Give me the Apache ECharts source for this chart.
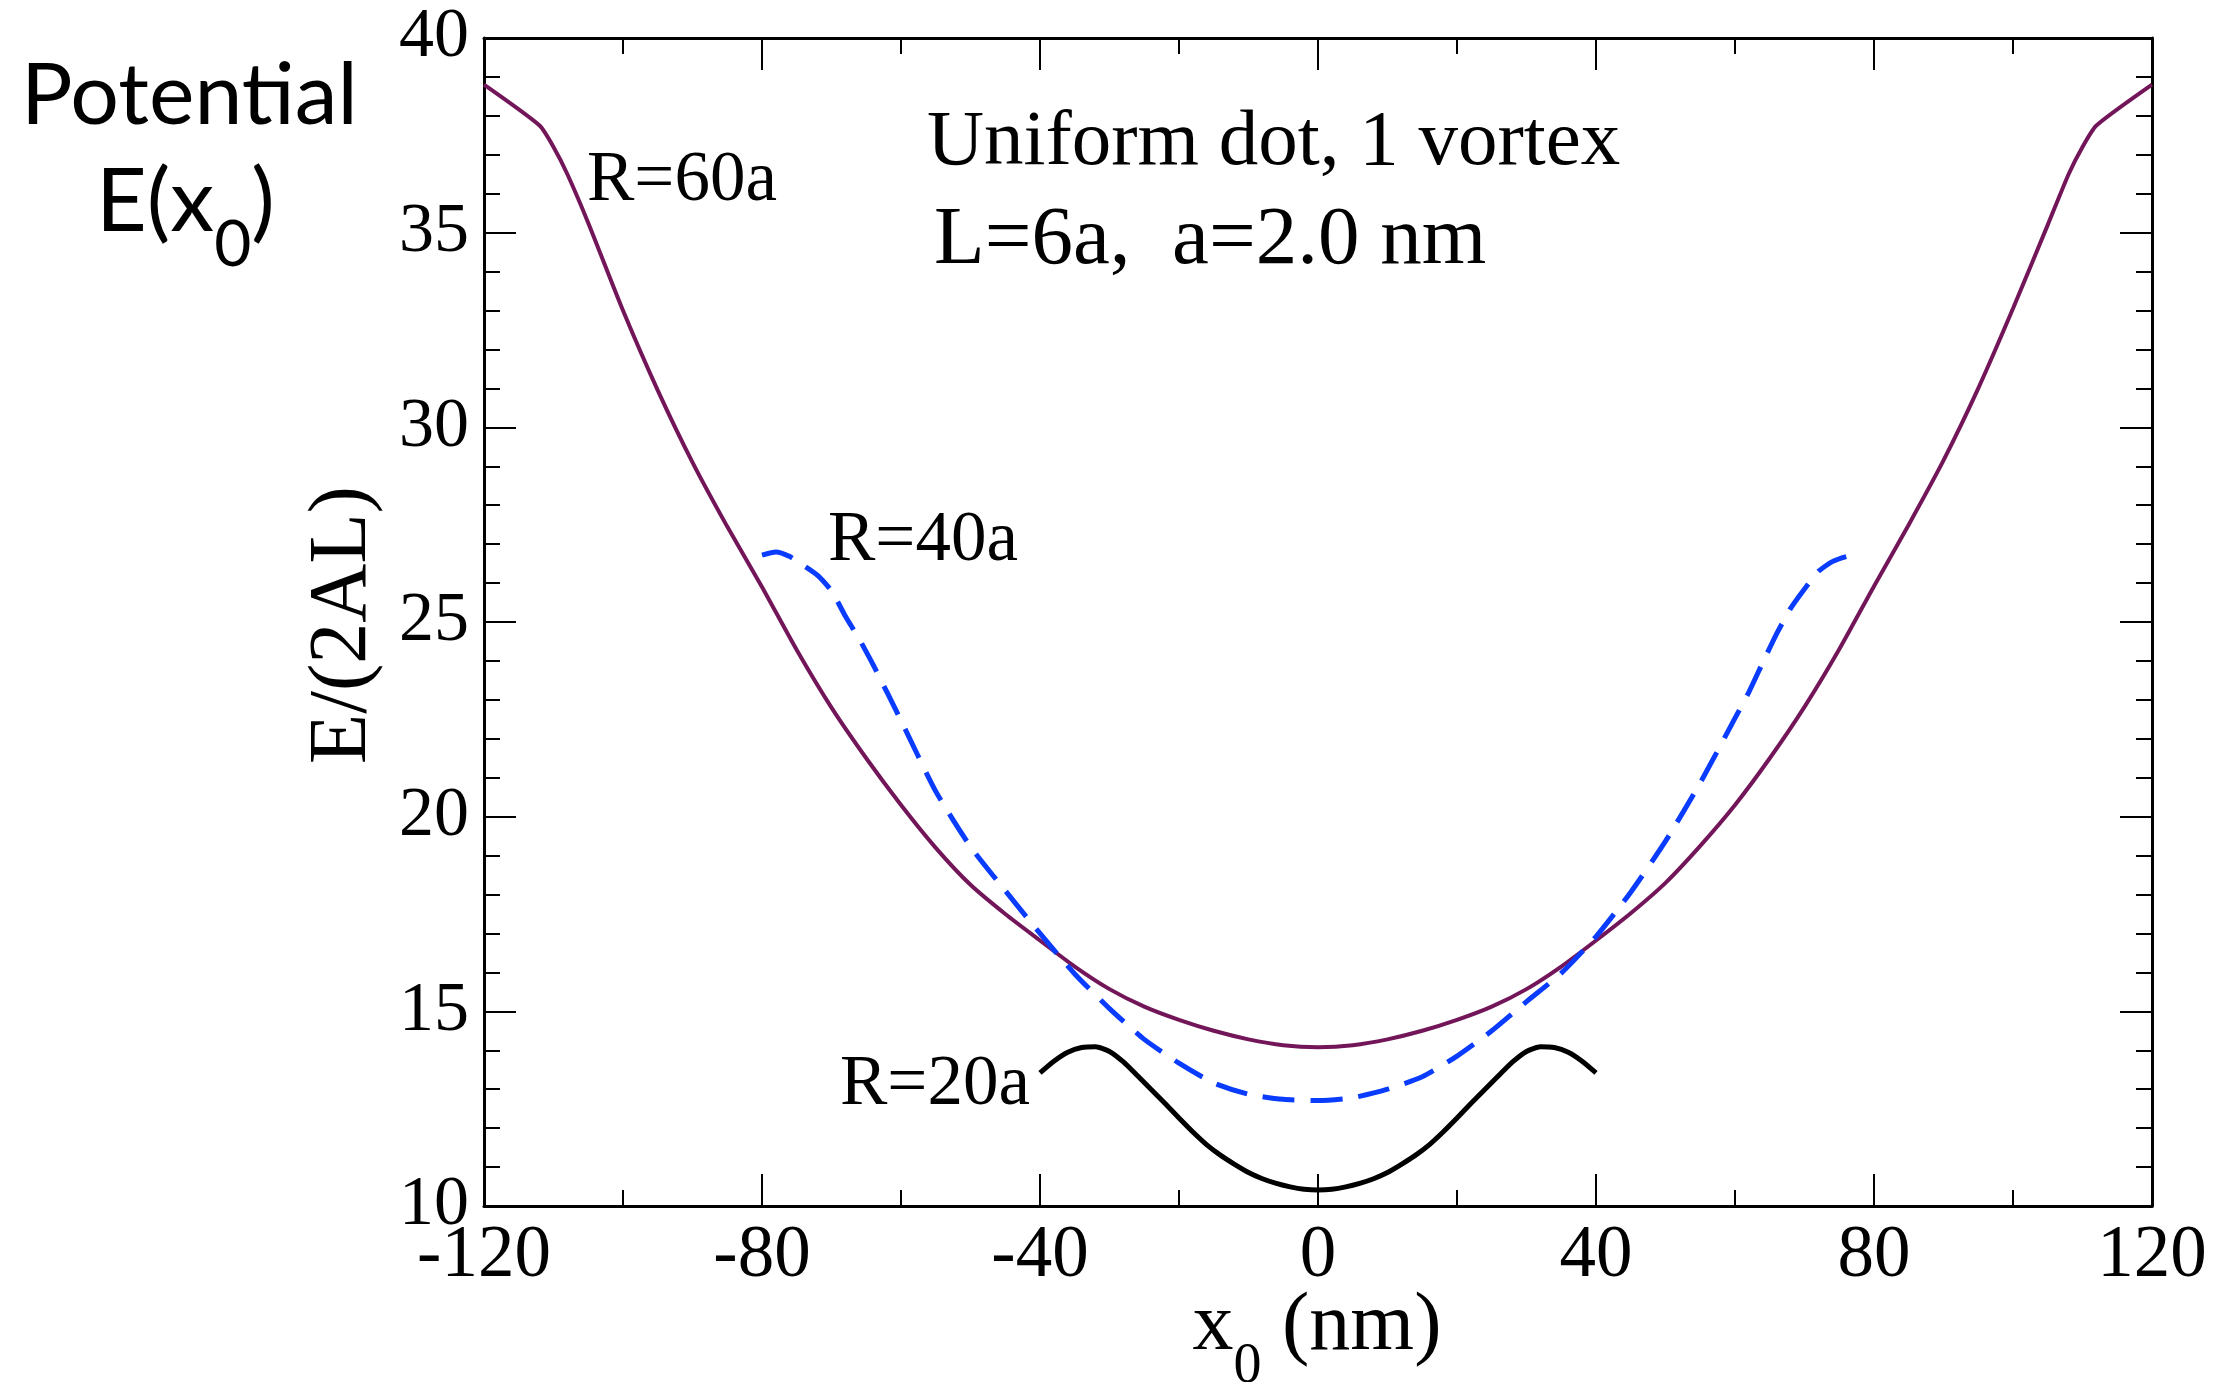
<!DOCTYPE html>
<html>
<head>
<meta charset="utf-8">
<script src="https://cdn.jsdelivr.net/npm/echarts@6/dist/echarts.min.js"></script>
<style>
  html, body { margin: 0; padding: 0; background: #fff; }
  #chart { width: 2219px; height: 1382px; }
</style>
</head>
<body>
<div id="chart"></div>
<script>
// R=60a (solid maroon)
var r60X = [-120, -112, -110, -108, -105, -100, -95, -90, -85, -80, -75, -70, -65, -60, -55, -50, -45, -40, -35, -30, -25, -20, -15, -10, -5, 0,
            5, 10, 15, 20, 25, 30, 35, 40, 45, 50, 55, 60, 65, 70, 75, 80, 85, 90, 95, 100, 105, 108, 110, 112, 120];
var r60Y = [38.8, 37.75, 37.2, 36.5, 35.25, 33.0, 30.95, 29.1, 27.45, 25.9, 24.28, 22.8, 21.5, 20.3, 19.2, 18.25, 17.5, 16.82, 16.15, 15.57, 15.12, 14.78, 14.5, 14.28, 14.13, 14.08,
            14.13, 14.28, 14.5, 14.78, 15.12, 15.57, 16.15, 16.82, 17.52, 18.3, 19.25, 20.3, 21.5, 22.82, 24.3, 25.92, 27.5, 29.15, 31.0, 33.05, 35.2, 36.5, 37.2, 37.75, 38.8];

// R=40a (dashed blue)
var r40X = [-80, -78, -76, -74, -72, -70, -68, -66, -64, -62, -60, -55, -50, -45, -40, -35, -30, -25, -20, -15, -10, -5, 0,
            5, 10, 15, 20, 25, 30, 35, 40, 45, 50, 55, 60, 62, 64, 66, 68, 70, 72, 74, 76, 78];
var r40Y = [26.72, 26.8, 26.68, 26.45, 26.2, 25.8, 25.15, 24.56, 23.9, 23.19, 22.47, 20.65, 19.23, 18.1, 17.0, 15.96, 15.07, 14.28, 13.67, 13.16, 12.87, 12.74, 12.71,
            12.78, 13.0, 13.32, 13.85, 14.5, 15.25, 15.98, 16.92, 18.06, 19.37, 20.87, 22.53, 23.2, 23.96, 24.7, 25.35, 25.85, 26.3, 26.55, 26.68, 26.75];

// R=20a (solid black)
var r20X = [-40, -38, -36, -34, -32, -30, -28, -26, -24, -22, -20, -18, -16, -14, -12, -10, -8, -6, -4, -2, 0,
            2, 4, 6, 8, 10, 12, 14, 16, 18, 20, 22, 24, 26, 28, 30, 32, 34, 36, 38, 40];
var r20Y = [13.42, 13.72, 13.95, 14.07, 14.09, 13.97, 13.7, 13.35, 12.99, 12.63, 12.26, 11.9, 11.57, 11.3, 11.07, 10.86, 10.7, 10.58, 10.49, 10.43, 10.41,
            10.43, 10.49, 10.58, 10.7, 10.86, 11.07, 11.3, 11.57, 11.9, 12.26, 12.63, 12.99, 13.35, 13.7, 13.97, 14.09, 14.07, 13.95, 13.72, 13.42];

var xTicks = [-120, -80, -40, 0, 40, 80, 120];
var yTicks = [10, 15, 20, 25, 30, 35, 40];

function pairs(xs, ys) {
    var res = [];
    for (var i = 0; i < xs.length; i++) {
        res.push([xs[i], ys[i]]);
    }
    return res;
}

var serif = '"Liberation Serif", "Times New Roman", serif';
var sans = 'Lato, "Open Sans", sans-serif';

var tickStyle = { color: '#000', width: 2 };

function xAxisDef(pos, showLabel) {
    return {
        type: 'value',
        position: pos,
        min: xTicks[0],
        max: xTicks[xTicks.length - 1],
        interval: 40,
        axisLine: { show: true, onZero: false, lineStyle: { color: '#000', width: 3 } },
        axisTick: { show: true, inside: true, length: 32, lineStyle: tickStyle },
        minorTick: { show: true, splitNumber: 2, length: 16, lineStyle: tickStyle },
        splitLine: { show: false },
        axisLabel: {
            show: showLabel, margin: 14, color: '#000',
            fontFamily: serif, fontSize: 73,
            showMinLabel: true, showMaxLabel: true
        }
    };
}

function yAxisDef(pos, showLabel) {
    return {
        type: 'value',
        position: pos,
        min: yTicks[0],
        max: yTicks[yTicks.length - 1],
        interval: 5,
        axisLine: { show: true, onZero: false, lineStyle: { color: '#000', width: 3 } },
        axisTick: { show: true, inside: true, length: 32, lineStyle: tickStyle },
        minorTick: { show: true, splitNumber: 5, length: 16, lineStyle: tickStyle },
        splitLine: { show: false },
        axisLabel: {
            show: showLabel, margin: 15, color: '#000',
            fontFamily: serif, fontSize: 70,
            showMinLabel: true, showMaxLabel: true
        }
    };
}

var chart = echarts.init(document.getElementById('chart'), null, { renderer: 'canvas' });

var option = {
    backgroundColor: '#fff',
    animation: false,
    grid: { left: 484, right: 67, top: 38, bottom: 176, containLabel: false },
    xAxis: [xAxisDef('bottom', true), xAxisDef('top', false)],
    yAxis: [yAxisDef('left', true), yAxisDef('right', false)],
    series: [
        {
            name: 'R=60a', type: 'line', showSymbol: false,
            smooth: 0.2,
            lineStyle: { color: '#731659', width: 4 },
            data: pairs(r60X, r60Y)
        },
        {
            name: 'R=40a', type: 'line', showSymbol: false,
            smooth: 0.2,
            lineStyle: { color: '#0a3cff', width: 5, type: [32, 16] },
            data: pairs(r40X, r40Y)
        },
        {
            name: 'R=20a', type: 'line', showSymbol: false,
            smooth: 0.2,
            lineStyle: { color: '#000', width: 5 },
            data: pairs(r20X, r20Y)
        }
    ],
    graphic: [
        {
            type: 'text', x: 21, y: 96,
            style: { text: 'Potential', font: '86px ' + sans, fill: '#000', align: 'left', verticalAlign: 'middle' }
        },
        {
            type: 'text', x: 96, y: 159,
            style: {
                text: '{m|E(x}{s|0}{m|)}', align: 'left', verticalAlign: 'top', fill: '#000',
                rich: {
                    m: { fontFamily: sans, fontSize: 88, lineHeight: 100, verticalAlign: 'top' },
                    s: { fontFamily: sans, fontSize: 64, lineHeight: 70, verticalAlign: 'top', padding: [54, 0, 0, 0] }
                }
            }
        },
        {
            type: 'text', x: 927, y: 143,
            style: { text: 'Uniform dot, 1 vortex', font: '79px ' + serif, fill: '#000', align: 'left', verticalAlign: 'middle' }
        },
        {
            type: 'text', x: 934, y: 241,
            style: { text: 'L=6a,  a=2.0 nm', font: '83px ' + serif, fill: '#000', align: 'left', verticalAlign: 'middle' }
        },
        {
            type: 'text', x: 587, y: 181,
            style: { text: 'R=60a', font: '71px ' + serif, fill: '#000', align: 'left', verticalAlign: 'middle' }
        },
        {
            type: 'text', x: 828, y: 541,
            style: { text: 'R=40a', font: '71px ' + serif, fill: '#000', align: 'left', verticalAlign: 'middle' }
        },
        {
            type: 'text', x: 840, y: 1085,
            style: { text: 'R=20a', font: '71px ' + serif, fill: '#000', align: 'left', verticalAlign: 'middle' }
        },
        {
            type: 'text', x: 1317, y: 1286,
            style: {
                text: '{m|x}{s|0}{m| (nm)}', align: 'center', verticalAlign: 'top', fill: '#000',
                rich: {
                    m: { fontFamily: serif, fontSize: 82, lineHeight: 90, verticalAlign: 'top' },
                    s: { fontFamily: serif, fontSize: 56, lineHeight: 60, verticalAlign: 'top', padding: [53, 0, 0, 0] }
                }
            }
        },
        {
            type: 'text', x: 343, y: 625, rotation: Math.PI / 2,
            style: { text: 'E/(2AL)', font: '82px ' + serif, fill: '#000', align: 'center', verticalAlign: 'middle' }
        }
    ]
};

chart.setOption(option);
</script>
</body>
</html>
